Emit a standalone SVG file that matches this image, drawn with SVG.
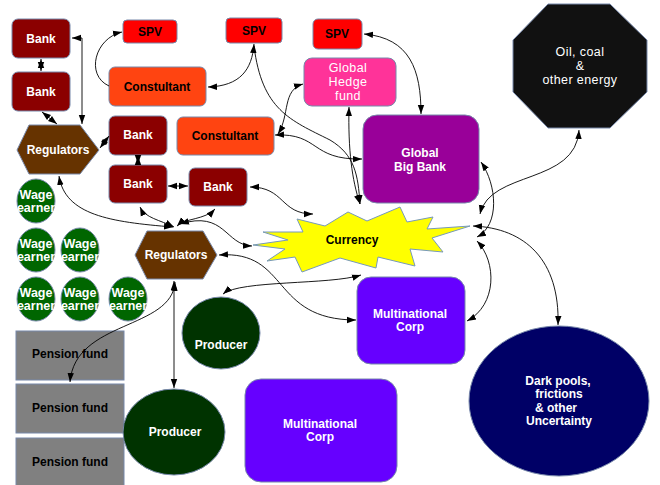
<svg xmlns="http://www.w3.org/2000/svg" width="660" height="485" viewBox="0 0 660 485">
<style>
text{font-family:"Liberation Sans",Arial,sans-serif;font-size:12px;font-weight:bold;text-anchor:middle}
.w{fill:#fff}.k{fill:#000}.reg{font-weight:normal;font-size:12.5px;letter-spacing:0.4px}
.we{font-size:12.5px}
.sh{stroke:#7788aa;stroke-width:1}
.bank{fill:#8b0000}.spv{fill:#ff0000}.con{fill:#ff4411}.hedge{fill:#ff3399}.big{fill:#990099}
.regu{fill:#663300}.wage{fill:#006600}.prod{fill:#003300}.pen{fill:#808080}.mnc{fill:#6600ff}
.dark{fill:#000066}.oil{fill:#111111}.cur{fill:#ffff00;stroke:#7799bb}
.c path{fill:none;stroke:#000;stroke-width:0.9}
.b{marker-start:url(#a);marker-end:url(#a)}
</style>
<defs>
<marker id="a" viewBox="0 0 9 9" refX="9" refY="4.5" markerWidth="9" markerHeight="9" markerUnits="userSpaceOnUse" orient="auto-start-reverse"><path d="M0,1.3 L9,4.5 L0,7.7z" fill="#000"/></marker>
</defs>
<rect width="660" height="485" fill="#fff"/>

<g id="bank1"><rect class="bank sh" x="12" y="19" width="58" height="39" rx="6"/><text class="w" x="41" y="43">Bank</text></g>
<g id="bank2"><rect class="bank sh" x="12" y="72" width="58" height="39" rx="6"/><text class="w" x="41" y="96">Bank</text></g>
<g id="regulators1"><polygon class="regu sh" points="17,150 29,125 80,125 99,150 80,174 29,174"/><text class="w" x="58" y="154">Regulators</text></g>
<g id="spv1"><rect class="spv sh" x="123" y="20" width="54" height="23" rx="4"/><text class="k" x="150" y="36">SPV</text></g>
<g id="consultant1"><rect class="con sh" x="109" y="67" width="97" height="39" rx="6"/><text class="k" x="157" y="91">Constultant</text></g>
<g id="spv2"><rect class="spv sh" x="226" y="18" width="56" height="25" rx="4"/><text class="k" x="254" y="35">SPV</text></g>
<g id="spv3"><rect class="spv sh" x="313" y="19" width="49" height="30" rx="5"/><text class="k" x="337" y="38">SPV</text></g>
<g id="hedge"><rect class="hedge sh" x="304" y="58" width="92" height="48" rx="8"/><text class="w reg" x="348" y="72">Global</text><text class="w reg" x="348" y="86">Hedge</text><text class="w reg" x="348" y="100">fund</text></g>
<g id="consultant2"><rect class="con sh" x="177" y="117" width="97" height="38" rx="6"/><text class="k" x="225" y="140">Constultant</text></g>
<g id="bigbank"><rect class="big sh" x="363" y="115" width="116" height="88" rx="14"/><text class="w" x="420" y="157">Global</text><text class="w" x="420" y="171">Big Bank</text></g>
<g id="oil"><polygon class="oil sh" points="548,4 610,4 647,40 647,92 610,128 548,128 513,92 513,40"/><text class="w reg" x="580" y="56">Oil, coal</text><text class="w reg" x="580" y="70">&amp;</text><text class="w reg" x="580" y="84">other energy</text></g>
<g id="bank3"><rect class="bank sh" x="109" y="116" width="58" height="39" rx="6"/><text class="w" x="138" y="139">Bank</text></g>
<g id="bank4"><rect class="bank sh" x="109" y="165" width="58" height="38" rx="6"/><text class="w" x="138" y="188">Bank</text></g>
<g id="bank5"><rect class="bank sh" x="189" y="168" width="58" height="38" rx="6"/><text class="w" x="218" y="191">Bank</text></g>
<g id="regulators2"><polygon class="regu sh" points="135,255 147,231 203,231 217,255 203,279 147,279"/><text class="w" x="176" y="259">Regulators</text></g>

<g id="wage1"><ellipse class="wage sh" cx="36" cy="201" rx="19" ry="22"/><text class="w we" x="36" y="199">Wage</text><text class="w we" x="36" y="212">earner</text></g>
<g id="wage2"><ellipse class="wage sh" cx="36" cy="250" rx="19" ry="22"/><text class="w we" x="36" y="248">Wage</text><text class="w we" x="36" y="261">earner</text></g>
<g id="wage3"><ellipse class="wage sh" cx="80" cy="250" rx="19" ry="22"/><text class="w we" x="80" y="248">Wage</text><text class="w we" x="80" y="261">earner</text></g>
<g id="wage4"><ellipse class="wage sh" cx="36" cy="299" rx="19" ry="22"/><text class="w we" x="36" y="297">Wage</text><text class="w we" x="36" y="310">earner</text></g>
<g id="wage5"><ellipse class="wage sh" cx="80" cy="299" rx="19" ry="22"/><text class="w we" x="80" y="297">Wage</text><text class="w we" x="80" y="310">earner</text></g>
<g id="wage6"><ellipse class="wage sh" cx="128" cy="299" rx="19" ry="22"/><text class="w we" x="128" y="297">Wage</text><text class="w we" x="128" y="310">earner</text></g>

<g id="pension1"><rect class="pen sh" x="16" y="331" width="108" height="49"/><text class="k" x="70" y="358">Pension fund</text></g>
<g id="pension2"><rect class="pen sh" x="16" y="384" width="108" height="49"/><text class="k" x="70" y="412">Pension fund</text></g>
<g id="pension3"><rect class="pen sh" x="16" y="438" width="108" height="49"/><text class="k" x="70" y="466">Pension fund</text></g>

<g id="producer1"><ellipse class="prod sh" cx="221" cy="333" rx="39" ry="36"/><text class="w" x="221" y="349">Producer</text></g>
<g id="producer2"><ellipse class="prod sh" cx="174" cy="432" rx="51" ry="43"/><text class="w" x="175" y="436">Producer</text></g>

<g id="currency"><polygon class="cur" points="263,232 303,232 297,219 325,226 348,212 367,221 400,207 407,222 433,217 427,229 470,226 432,238 443,252 410,249 415,266 378,257 376,268 340,258 302,272 295,257 267,261 285,249 253,245 288,240"/><text class="k" x="352" y="244">Currency</text></g>

<g id="mnc1"><rect class="mnc sh" x="357" y="277" width="108" height="87" rx="14"/><text class="w" x="410" y="318">Multinational</text><text class="w" x="410" y="331">Corp</text></g>
<g id="mnc2"><rect class="mnc sh" x="245" y="379" width="152" height="103" rx="16"/><text class="w" x="320" y="428">Multinational</text><text class="w" x="320" y="441">Corp</text></g>
<g id="darkpools"><ellipse class="dark sh" cx="559" cy="401" rx="90" ry="75"/><text class="w" x="558" y="385">Dark pools,</text><text class="w" x="559" y="398">frictions</text><text class="w" x="556" y="412">&amp; other</text><text class="w" x="559" y="425">Uncertainty</text></g>

<g id="connectors" class="c">
<path class="b" d="M72,38 L82,38 L82,124"/>
<path class="b" d="M41,59 L41,71"/>
<path class="b" d="M42,112 L57,124"/>
<path class="b" d="M100,148 L109,136"/>
<path class="b" d="M138,156 L138,164"/>
<path class="b" d="M168,186 L188,186"/>
<path marker-start="url(#a)" d="M122,32 C95,38 85,75 109,86"/>
<path class="b" d="M254,44 C252,70 240,86 208,87"/>
<path marker-end="url(#a)" d="M254,46 C262,110 290,120 330,140 C355,155 358,175 360,204"/>
<path class="b" d="M349,107 C348,150 352,180 360,204"/>
<path class="b" d="M275,135 C320,133 310,160 362,159"/>
<path class="b" d="M278,134 C290,115 282,90 303,84"/>
<path class="b" d="M364,34 C410,38 421,70 421,114"/>
<path class="b" d="M579,130 C576,185 490,170 480,214"/>
<path class="b" d="M481,162 C497,185 500,225 477,237"/>
<path class="b" d="M477,241 C497,262 497,305 467,321"/>
<path class="b" d="M473,226 C525,228 560,260 558,325"/>
<path class="b" d="M59,176 C65,215 110,222 173,227"/>
<path class="b" d="M140,207 C145,218 160,220 174,227"/>
<path class="b" d="M215,209 C205,220 185,218 177,226"/>
<path class="b" d="M250,187 C285,187 280,214 313,214"/>
<path class="b" d="M180,224 C225,210 225,245 252,246"/>
<path class="b" d="M219,255 C290,250 270,320 356,320"/>
<path class="b" d="M223,294 C240,280 330,285 361,275"/>
<path class="b" d="M174,281 L174,388"/>
<path class="b" d="M175,282 C172,330 75,320 70,382"/>
</g>
</svg>
